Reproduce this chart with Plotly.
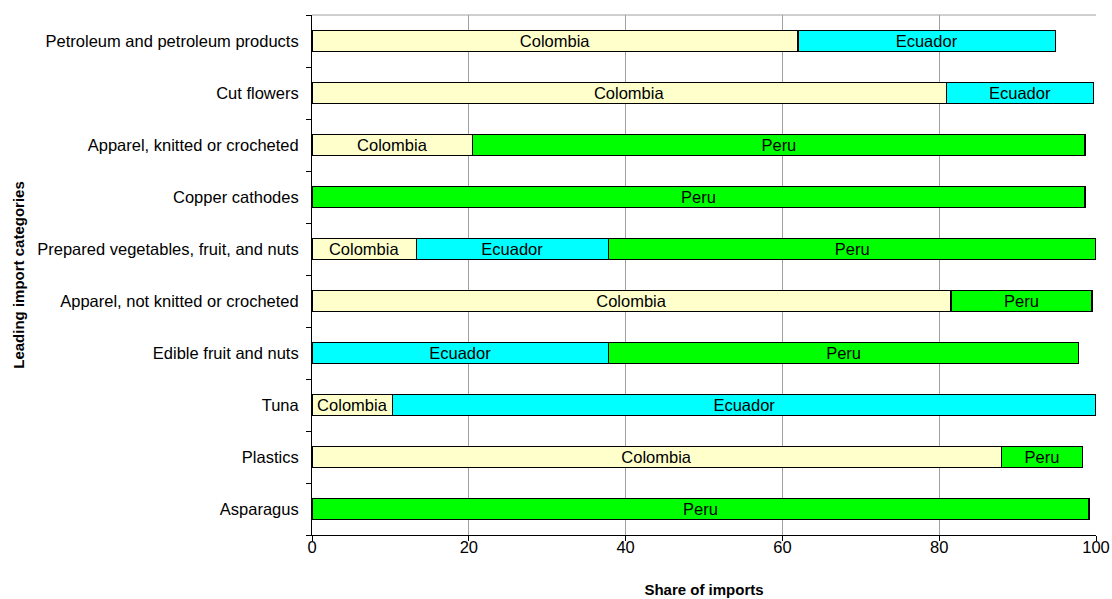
import plotly.graph_objects as go

categories = ["Asparagus", "Plastics", "Tuna", "Edible fruit and nuts",
              "Apparel, not knitted or crocheted",
              "Prepared vegetables, fruit, and nuts", "Copper cathodes",
              "Apparel, knitted or crocheted", "Cut flowers",
              "Petroleum and petroleum products"]
colombia = [None, 87.9, 10.3, None, 81.5, 13.3, None, 20.5, 80.9, 62.0]
ecuador = [None, None, 89.7, 37.8, None, 24.5, None, None, 18.8, 32.8]
peru = [99.1, 10.4, None, 60.0, 18.0, 62.2, 98.6, 78.1, None, None]

series = [("Colombia", colombia, "#FFFFCC"),
          ("Ecuador", ecuador, "#00FFFF"),
          ("Peru", peru, "#00FF00")]

FONT = "Liberation Sans, Arial, sans-serif"

fig = go.Figure()
for name, vals, color in series:
    fig.add_trace(go.Bar(
        y=categories, x=vals, name=name, orientation="h",
        marker=dict(color=color, line=dict(color="#000000", width=1.2)),
        text=[name if v is not None else "" for v in vals],
        textposition="inside", insidetextanchor="middle", textangle=0,
        constraintext="none",
        textfont=dict(family=FONT, size=16.5, color="#000000"),
        width=0.4, showlegend=False, hoverinfo="skip",
    ))

fig.update_layout(
    barmode="stack",
    width=1112, height=599,
    margin=dict(l=312, r=16, t=15, b=64),
    plot_bgcolor="#FFFFFF", paper_bgcolor="#FFFFFF",
    font=dict(family=FONT, size=16.5, color="#000000"),
    uniformtext=dict(minsize=16, mode="show"),
    xaxis=dict(range=[0, 100], tickvals=[0, 20, 40, 60, 80, 100],
               showgrid=True, gridcolor="#A0A0A0", gridwidth=1,
               showline=True, linecolor="#000000", linewidth=1,
               ticks="outside", ticklen=5, tickcolor="#000000",
               ticklabelstandoff=-8, ticklabeloverflow="allow",
               tickfont=dict(size=16.5), zeroline=False, automargin=False,
               title=dict(text="<b>Share of imports</b>", font=dict(size=15), standoff=29)),
    yaxis=dict(type="category", categoryorder="array", categoryarray=categories,
               showline=True, linecolor="#000000", linewidth=1,
               ticks="outside", ticklen=5, tickcolor="#000000", tickson="boundaries",
               ticklabelstandoff=9,
               showgrid=False, tickfont=dict(size=16.5), range=[-0.5, 9.5],
               automargin=False,
               title=dict(text="<b>Leading import categories</b>", font=dict(size=15), standoff=9)),
    shapes=[dict(type="line", xref="x", yref="paper", x0=0, x1=100, y0=1, y1=1,
                 line=dict(color="#A0A0A0", width=1))],
)

fig.write_html("out.html",
               config={"displayModeBar": False},
               post_script="document.body.style.margin='0';document.body.style.overflow='hidden';")
